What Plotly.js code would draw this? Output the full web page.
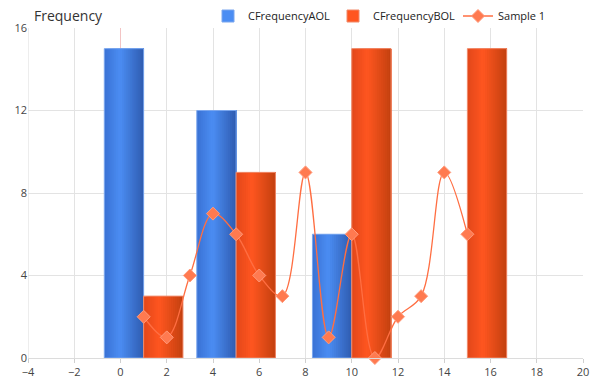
<!DOCTYPE html>
<html>
<head>
<meta charset="utf-8">
<script src="https://cdn.plot.ly/plotly-3.0.1.min.js"></script>
<style>html,body{margin:0;padding:0;background:#fff;}#chart{width:597px;height:384px;}</style>
</head>
<body>
<div id="chart"></div>
<script>
// ---- data ----
const groupX = [1, 5, 10, 15];
const seriesA = [15, 12, 6, 0];      // CFrequencyAOL
const seriesB = [3, 9, 15, 15];      // CFrequencyBOL
const sampleX = [1, 2, 3, 4, 5, 6, 7, 8, 9, 10, 11, 12, 13, 14, 15];
const sampleY = [2, 1, 4, 7, 6, 4, 3, 9, 1, 6, 0, 2, 3, 9, 6];
const names = ['CFrequencyAOL', 'CFrequencyBOL', 'Sample 1'];

// ---- style ----
const barW = 1.7;
const N = 20;
function hex(c){return [parseInt(c.slice(1,3),16),parseInt(c.slice(3,5),16),parseInt(c.slice(5,7),16)];}
function mix(a,b,t){const A=hex(a),B=hex(b);return 'rgb('+A.map((v,i)=>Math.round(v+(B[i]-v)*t)).join(',')+')';}
function grad(stops,t){
  for(let i=0;i<stops.length-1;i++){
    if(t<=stops[i+1][0]){const u=(t-stops[i][0])/(stops[i+1][0]-stops[i][0]);return mix(stops[i][1],stops[i+1][1],u);}
  }
  return stops[stops.length-1][1];
}
const blueStops = [[0,'#3a72d4'],[0.4,'#4b8df3'],[1,'#2f5cb0']];
const orangeStops = [[0,'#e2471a'],[0.4,'#ff5620'],[1,'#c2400f']];

const traces = [];
function addBars(vals, baseOff, stops, name, edge){
  const sw = barW / N;
  for(let i=0;i<N;i++){
    traces.push({
      type:'bar', x:groupX, y:vals, width:barW - i*sw, offset:baseOff + i*sw,
      marker:{color:grad(stops,(i+0.5)/N), line:{width:0}},
      showlegend:false, hoverinfo:'skip', legendgroup:name
    });
  }
  traces.push({
    type:'bar', x:groupX, y:vals, width:barW, offset:baseOff, name:name,
    marker:{color:'rgba(0,0,0,0)', line:{color:edge, width:vals.map(v=>v>0?1:0)}},
    showlegend:false, hoverinfo:'skip', legendgroup:name
  });
  traces.push({
    type:'bar', x:[null], y:[null], name:name,
    marker:{color:grad(stops,0.4), line:{color:edge,width:1}},
    showlegend:true, legendgroup:name
  });
}
addBars(seriesA, -barW, blueStops, names[0], '#7aa6ee');
addBars(seriesB, 0, orangeStops, names[1], '#f08a6a');

traces.push({
  type:'scatter', mode:'lines+markers', x:sampleX, y:sampleY, name:names[2],
  line:{color:'#ff6e42', width:1.3, shape:'spline', smoothing:1},
  marker:{symbol:'diamond', size:10, color:'#ff7a50', line:{color:'#ff9b7c', width:1}},
  cliponaxis:false
});

const layout = {
  width:597, height:384,
  margin:{l:28, r:14, t:28, b:26, autoexpand:false},
  paper_bgcolor:'#fff', plot_bgcolor:'#fff',
  font:{family:'"Open Sans", "DejaVu Sans", sans-serif', size:11, color:'#444'},
  title:{text:'Frequency', x:34/597, xanchor:'left', xref:'container', y:1-16/384, yref:'container', yanchor:'middle',
         font:{size:14, color:'#333', family:'"Open Sans", sans-serif'}},
  barmode:'overlay',
  showlegend:true,
  legend:{orientation:'h', x:1, xanchor:'right', y:1-16/384, yref:'container', yanchor:'middle',
          font:{size:11, color:'#222'}, itemwidth:30, entrywidth:80, entrywidthmode:'pixels',
          traceorder:'normal', bgcolor:'rgba(0,0,0,0)'},
  xaxis:{range:[-4,20], tick0:-4, dtick:2, showgrid:true, gridcolor:'#e3e3e3',
         zeroline:true, zerolinecolor:'#f3c4c4', zerolinewidth:1,
         showline:true, linecolor:'#dcdcdc', ticks:'outside', ticklen:4, tickcolor:'#cfcfcf',
         tickfont:{size:11, color:'#444'}, fixedrange:true},
  yaxis:{range:[0,16], tick0:0, dtick:4, showgrid:true, gridcolor:'#e3e3e3',
         zeroline:false, showline:false, ticks:'', ticklen:3,
         tickfont:{size:11, color:'#444'}, fixedrange:true},
  shapes:[{type:'line', xref:'x', yref:'paper', x0:-4, x1:-4, y0:0, y1:1, line:{color:'#dcdcdc', width:1}}]
};

Plotly.newPlot('chart', traces, layout, {displayModeBar:false, staticPlot:true});
</script>
</body>
</html>
